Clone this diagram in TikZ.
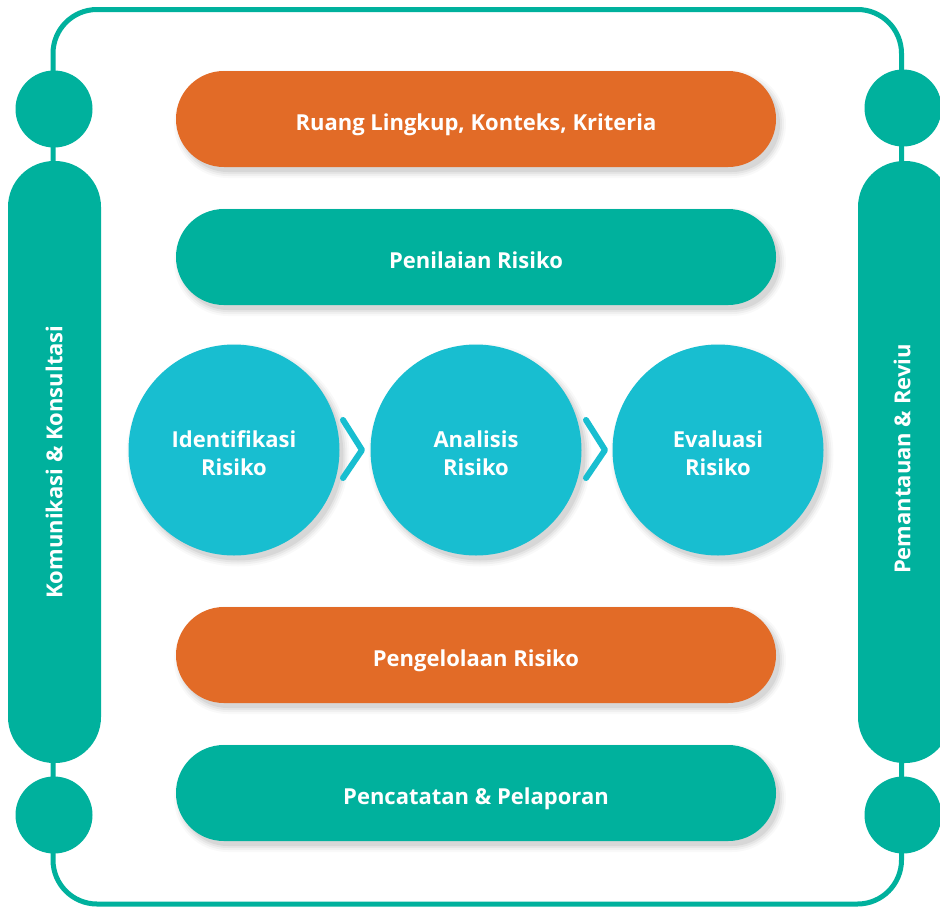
\documentclass[tikz,border=0pt]{standalone}
\usepackage{fontspec}
\setsansfont{Open Sans}
\usetikzlibrary{calc}
\definecolor{tealc}{RGB}{0,177,157}
\definecolor{orangec}{RGB}{226,107,39}
\definecolor{cyanc}{RGB}{24,190,208}
\tikzset{
  lbl/.style={font=\sffamily\bfseries\fontsize{22}{28}\selectfont, text=white, align=center, inner sep=0pt},
  bar/.style={rectangle, rounded corners=47.9pt, minimum width=600pt, minimum height=96pt, inner sep=0pt, draw=none},
  sidepill/.style={rectangle, rounded corners=46pt, minimum width=93pt, minimum height=602pt, inner sep=0pt, fill=tealc},
  dot/.style={circle, minimum size=77pt, inner sep=0pt, fill=tealc},
  bigdot/.style={circle, minimum size=211pt, inner sep=0pt, fill=cyanc},
  chev/.style={draw=cyanc, line width=6pt, line cap=round, line join=round},
  frame/.style={draw=tealc, line width=5pt, rounded corners=44pt}
}
\newcommand{\barshadow}[2]{%
  \foreach \e/\o in {12/0.025,8/0.035,4/0.045,0/0.06}{%
    \fill[black, opacity=\o, rounded corners={(96+\e)/2*1pt-0.1pt}]
      ($(#1,#2)+(4-300-\e/2,5-48-\e/2)$) rectangle ($(#1,#2)+(4+300+\e/2,5+48+\e/2)$);
  }}
\newcommand{\dotshadow}[2]{%
  \foreach \e/\o in {12/0.025,8/0.035,4/0.045,0/0.06}{%
    \fill[black, opacity=\o] ($(#1,#2)+(4,5)$) circle[radius={(105.5+\e/2)*1pt}];
  }}
\begin{document}
\begin{tikzpicture}[x=1pt,y=-1pt]
\useasboundingbox (0,0) rectangle (940,906);
\clip (0,0) rectangle (940,906);
\fill[white] (0,0) rectangle (940,906);

% outer frame
\draw[frame] (53,9.5) rectangle (901.5,904);

% left side
\node[sidepill] (lp) at (54.5,462) {};
\node[dot] (lc1) at (54,109) {};
\node[dot] (lc2) at (54,815) {};
\node[lbl, rotate=90] (lt) at (54,462) {Komunikasi \& Konsultasi};

% right side
\node[sidepill] (rp) at (904.5,462) {};
\node[dot] (rc1) at (903,108) {};
\node[dot] (rc2) at (903,815) {};
\node[lbl, rotate=90] (rt) at (902,459) {Pemantauan \& Reviu};

% shadows of bars
\barshadow{476}{119}
\barshadow{476}{257}
\barshadow{476}{655}
\barshadow{476}{793}

% bars
\node[bar, fill=orangec] (b1) at (476,119) {};
\node[bar, fill=tealc] (b2) at (476,257) {};
\node[bar, fill=orangec] (b3) at (476,655) {};
\node[bar, fill=tealc] (b4) at (476,793) {};
\node[lbl, anchor=base] (b1t) at ($(b1.center)+(0,11)$) {Ruang Lingkup, Konteks, Kriteria};
\node[lbl, anchor=base] (b2t) at ($(b2.center)+(0,11)$) {Penilaian Risiko};
\node[lbl, anchor=base] (b3t) at ($(b3.center)+(0,11)$) {Pengelolaan Risiko};
\node[lbl, anchor=base] (b4t) at ($(b4.center)+(0,11)$) {Pencatatan \& Pelaporan};

% circles
\dotshadow{234}{450}
\dotshadow{476}{450}
\dotshadow{718}{450}
\node[bigdot] (c1) at (234,450) {};
\node[bigdot] (c2) at (476,450) {};
\node[bigdot] (c3) at (718,450) {};
\node[lbl, anchor=base] (c1t) at ($(c1.center)+(0,-3)$) {Identifikasi};
\node[lbl, anchor=base] (c1u) at ($(c1.center)+(0,25)$) {Risiko};
\node[lbl, anchor=base] (c2t) at ($(c2.center)+(0,-3)$) {Analisis};
\node[lbl, anchor=base] (c2u) at ($(c2.center)+(0,25)$) {Risiko};
\node[lbl, anchor=base] (c3t) at ($(c3.center)+(0,-3)$) {Evaluasi};
\node[lbl, anchor=base] (c3u) at ($(c3.center)+(0,25)$) {Risiko};

% chevrons
\draw[chev] ($(c1.center)+(109,-30)$) -- ($(c1.center)+(128,0)$) -- ($(c1.center)+(109,28)$);
\draw[chev] ($(c2.center)+(110,-30)$) -- ($(c2.center)+(129,0)$) -- ($(c2.center)+(110,28)$);
\end{tikzpicture}
\end{document}
